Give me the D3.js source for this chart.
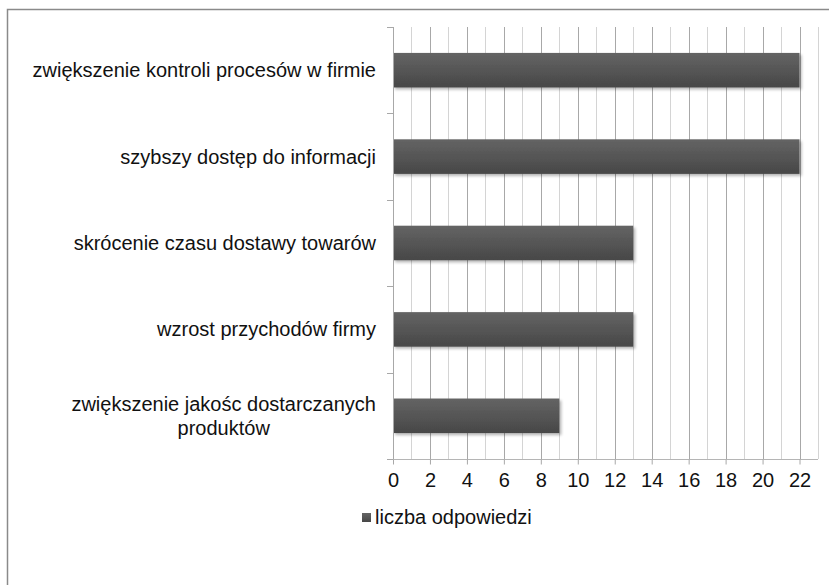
<!DOCTYPE html>
<html>
<head>
<meta charset="utf-8">
<script src="https://cdn.jsdelivr.net/npm/d3@7"></script>
<style>
  html, body { margin: 0; padding: 0; background: #fff; }
  svg { display: block; font-family: "Liberation Sans", Arial, sans-serif; }
</style>
</head>
<body>
<svg id="chart" width="829" height="585"></svg>
<script>
// Survey answers: benefits of the system, number of responses
const categories = [
  "zwiększenie kontroli procesów w firmie",
  "szybszy dostęp do informacji",
  "skrócenie czasu dostawy towarów",
  "wzrost przychodów firmy",
  "zwiększenie jakośc dostarczanych|produktów"
];
const values = [22, 22, 13, 13, 9];
const seriesName = "liczba odpowiedzi";
const tickValues = [0, 2, 4, 6, 8, 10, 12, 14, 16, 18, 20, 22];
const xMax = 23;

const svg = d3.select("#chart");
const W = 829, H = 585;
const plot = { left: 393, right: 818, top: 27, bottom: 459 };

// outer chart frame
svg.append("rect")
  .attr("x", 7.5).attr("y", 9.5)
  .attr("width", 840).attr("height", 600)
  .attr("fill", "#fff")
  .attr("stroke", "#8a8a8a").attr("stroke-width", 1.5);

const defs = svg.append("defs");
const grad = defs.append("linearGradient")
  .attr("id", "barGrad").attr("x1", 0).attr("y1", 0).attr("x2", 0).attr("y2", 1);
grad.append("stop").attr("offset", "0%").attr("stop-color", "#646464");
grad.append("stop").attr("offset", "100%").attr("stop-color", "#474747");

const shadow = defs.append("filter").attr("id", "barShadow")
  .attr("x", "-5%").attr("y", "-30%").attr("width", "110%").attr("height", "170%");
shadow.append("feGaussianBlur").attr("in", "SourceAlpha").attr("stdDeviation", 1.6).attr("result", "b");
shadow.append("feOffset").attr("in", "b").attr("dx", 1.5).attr("dy", 2).attr("result", "o");
shadow.append("feComponentTransfer").attr("in", "o").attr("result", "s")
  .append("feFuncA").attr("type", "linear").attr("slope", 0.3);
const fm = shadow.append("feMerge");
fm.append("feMergeNode").attr("in", "s");
fm.append("feMergeNode").attr("in", "SourceGraphic");

const x = d3.scaleLinear().domain([0, xMax]).range([plot.left, plot.right]);
const y = d3.scaleBand().domain(categories).range([plot.top, plot.bottom]).padding(0);
const barH = y.bandwidth() * 0.4;

// vertical gridlines: every unit, even values darker
const gridVals = d3.range(1, xMax + 1);
svg.append("g").selectAll("line").data(gridVals).join("line")
  .attr("x1", d => Math.round(x(d)) + 0.5).attr("x2", d => Math.round(x(d)) + 0.5)
  .attr("y1", plot.top).attr("y2", plot.bottom)
  .attr("stroke", d => d % 2 === 0 ? "#a8a8a8" : "#d4d4d4")
  .attr("stroke-width", 1);

// bars
svg.append("g").selectAll("rect").data(values).join("rect")
  .attr("x", x(0))
  .attr("y", (d, i) => y(categories[i]) + (y.bandwidth() - barH) / 2)
  .attr("width", d => x(d) - x(0))
  .attr("height", barH)
  .attr("fill", "url(#barGrad)")
  .attr("filter", "url(#barShadow)");

// x axis
const xAxis = svg.append("g")
  .attr("transform", `translate(0,${plot.bottom + 0.5})`)
  .call(d3.axisBottom(x).tickValues(tickValues).tickSize(5).tickPadding(8).tickFormat(d3.format("d")));
xAxis.select(".domain").attr("stroke", "#b5b5b5").attr("d", `M${plot.left - 6},0H${plot.right}`);
xAxis.selectAll(".tick line").attr("stroke", "#a8a8a8");
xAxis.selectAll(".tick text").attr("font-size", 20).attr("fill", "#111")
  .attr("font-family", "Liberation Sans, Arial, sans-serif");

// y axis line with category boundary ticks
const yAxis = svg.append("g");
yAxis.append("line")
  .attr("x1", plot.left + 0.5).attr("x2", plot.left + 0.5)
  .attr("y1", plot.top).attr("y2", plot.bottom)
  .attr("stroke", "#a8a8a8");
const bounds = categories.map(c => y(c)).concat([plot.bottom]);
yAxis.selectAll("line.bt").data(bounds).join("line").attr("class", "bt")
  .attr("x1", plot.left - 6).attr("x2", plot.left)
  .attr("y1", d => Math.round(d) + 0.5).attr("y2", d => Math.round(d) + 0.5)
  .attr("stroke", "#a8a8a8");

// category labels (multi-line labels centred on their widest line)
const labelRight = 376;
const lineH = 24;
categories.forEach(c => {
  const lines = c.split("|");
  const cy = y(c) + y.bandwidth() / 2;
  const t = svg.append("text")
    .attr("font-size", 20).attr("fill", "#111");
  lines.forEach((ln, i) => {
    t.append("tspan").attr("x", 0)
      .attr("y", cy + 7 + (i - (lines.length - 1) / 2) * lineH)
      .text(ln);
  });
  if (lines.length === 1) {
    t.attr("text-anchor", "end");
    t.selectAll("tspan").attr("x", labelRight);
  } else {
    let maxW = 0;
    t.selectAll("tspan").each(function () { maxW = Math.max(maxW, this.getComputedTextLength()); });
    t.attr("text-anchor", "middle");
    t.selectAll("tspan").attr("x", labelRight - maxW / 2);
  }
});

// legend
const lg = svg.append("g");
lg.append("rect").attr("x", 362).attr("y", 513).attr("width", 9).attr("height", 9)
  .attr("fill", "url(#barGrad)");
lg.append("text").attr("x", 375).attr("y", 524)
  .attr("font-size", 20).attr("fill", "#111").text(seriesName);
</script>
</body>
</html>
